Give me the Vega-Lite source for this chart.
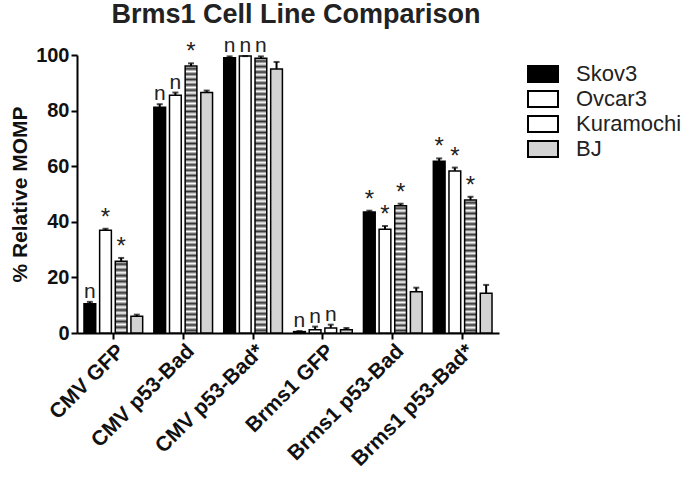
{
  "$schema": "https://vega.github.io/schema/vega-lite/v6.json",
  "width": 422,
  "height": 278,
  "padding": {"left": 9, "top": 1, "right": 0, "bottom": 0},
  "title": {"text": "Brms1 Cell Line Comparison", "fontSize": 27, "font": "Liberation Sans", "fontWeight": "bold", "color": "#222", "anchor": "middle", "offset": 6, "dx": 8},
  "data": {"values": [
    {"cond":"CMV GFP","line":"Skov3","v":10.5,"hi":11.2,"note":"n"},
    {"cond":"CMV GFP","line":"Ovcar3","v":37,"hi":37.5,"note":"*"},
    {"cond":"CMV GFP","line":"Kuramochi","v":25.8,"hi":27,"note":"*"},
    {"cond":"CMV GFP","line":"BJ","v":6,"hi":6.6,"note":""},
    {"cond":"CMV p53-Bad","line":"Skov3","v":81.2,"hi":82.3,"note":"n"},
    {"cond":"CMV p53-Bad","line":"Ovcar3","v":85.5,"hi":86.5,"note":"n"},
    {"cond":"CMV p53-Bad","line":"Kuramochi","v":96,"hi":97,"note":"*"},
    {"cond":"CMV p53-Bad","line":"BJ","v":86.5,"hi":87.2,"note":""},
    {"cond":"CMV p53-Bad*","line":"Skov3","v":99,"hi":99.5,"note":"n"},
    {"cond":"CMV p53-Bad*","line":"Ovcar3","v":99.6,"hi":99.6,"note":"n"},
    {"cond":"CMV p53-Bad*","line":"Kuramochi","v":98.8,"hi":99.5,"note":"n"},
    {"cond":"CMV p53-Bad*","line":"BJ","v":95,"hi":97.5,"note":""},
    {"cond":"Brms1 GFP","line":"Skov3","v":0.5,"hi":0.7,"note":"n"},
    {"cond":"Brms1 GFP","line":"Ovcar3","v":1.2,"hi":2.3,"note":"n"},
    {"cond":"Brms1 GFP","line":"Kuramochi","v":1.8,"hi":3,"note":"n"},
    {"cond":"Brms1 GFP","line":"BJ","v":1.2,"hi":1.8,"note":""},
    {"cond":"Brms1 p53-Bad","line":"Skov3","v":43.5,"hi":44,"note":"*"},
    {"cond":"Brms1 p53-Bad","line":"Ovcar3","v":37.3,"hi":38.5,"note":"*"},
    {"cond":"Brms1 p53-Bad","line":"Kuramochi","v":45.8,"hi":46.5,"note":"*"},
    {"cond":"Brms1 p53-Bad","line":"BJ","v":14.8,"hi":16.3,"note":""},
    {"cond":"Brms1 p53-Bad*","line":"Skov3","v":61.8,"hi":62.8,"note":"*"},
    {"cond":"Brms1 p53-Bad*","line":"Ovcar3","v":58.3,"hi":59.5,"note":"*"},
    {"cond":"Brms1 p53-Bad*","line":"Kuramochi","v":47.8,"hi":49,"note":"*"},
    {"cond":"Brms1 p53-Bad*","line":"BJ","v":14.3,"hi":17.3,"note":""}
  ]},
  "encoding": {
    "x": {"field": "cond", "type": "nominal", "sort": null,
      "scale": {"paddingInner": 0.16, "paddingOuter": 0.1},
      "axis": {"title": null, "labelAngle": -45, "labelFontSize": 21, "labelPadding": 1}},
    "xOffset": {"field": "line", "type": "nominal", "sort": null,
      "scale": {"domain": ["Skov3","Ovcar3","Kuramochi","BJ"], "paddingInner": 0.25}}
  },
  "layer": [
    {
      "mark": {"type": "bar", "stroke": "black", "strokeWidth": 1.5},
      "encoding": {
        "y": {"field": "v", "type": "quantitative", "scale": {"domain": [0, 100]},
          "axis": {"title": "% Relative MOMP", "titleFontSize": 21, "labelFontSize": 20, "labelPadding": 2, "values": [0,20,40,60,80,100], "titlePadding": 5}},
        "fill": {
          "field": "line", "type": "nominal",
          "scale": {"domain": ["Skov3","Ovcar3","Kuramochi","BJ"], "range": ["#000000","#ffffff","#ffffff","#d3d3d3"]},
          "condition": [
            {"test": "datum.line === 'Kuramochi' && datum.v > 90", "value": {"gradient": "linear", "x1": 0, "y1": 0, "x2": 0, "y2": 1, "stops": [
              {"offset":0,"color":"#fff"},{"offset":0.01,"color":"#333"},{"offset":0.02,"color":"#fff"},{"offset":0.03,"color":"#333"},{"offset":0.04,"color":"#fff"},{"offset":0.05,"color":"#333"},{"offset":0.06,"color":"#fff"},{"offset":0.07,"color":"#333"},{"offset":0.08,"color":"#fff"},{"offset":0.09,"color":"#333"},
              {"offset":0.10,"color":"#fff"},{"offset":0.11,"color":"#333"},{"offset":0.12,"color":"#fff"},{"offset":0.13,"color":"#333"},{"offset":0.14,"color":"#fff"},{"offset":0.15,"color":"#333"},{"offset":0.16,"color":"#fff"},{"offset":0.17,"color":"#333"},{"offset":0.18,"color":"#fff"},{"offset":0.19,"color":"#333"},
              {"offset":0.20,"color":"#fff"},{"offset":0.21,"color":"#333"},{"offset":0.22,"color":"#fff"},{"offset":0.23,"color":"#333"},{"offset":0.24,"color":"#fff"},{"offset":0.25,"color":"#333"},{"offset":0.26,"color":"#fff"},{"offset":0.27,"color":"#333"},{"offset":0.28,"color":"#fff"},{"offset":0.29,"color":"#333"},
              {"offset":0.30,"color":"#fff"},{"offset":0.31,"color":"#333"},{"offset":0.32,"color":"#fff"},{"offset":0.33,"color":"#333"},{"offset":0.34,"color":"#fff"},{"offset":0.35,"color":"#333"},{"offset":0.36,"color":"#fff"},{"offset":0.37,"color":"#333"},{"offset":0.38,"color":"#fff"},{"offset":0.39,"color":"#333"},
              {"offset":0.40,"color":"#fff"},{"offset":0.41,"color":"#333"},{"offset":0.42,"color":"#fff"},{"offset":0.43,"color":"#333"},{"offset":0.44,"color":"#fff"},{"offset":0.45,"color":"#333"},{"offset":0.46,"color":"#fff"},{"offset":0.47,"color":"#333"},{"offset":0.48,"color":"#fff"},{"offset":0.49,"color":"#333"},
              {"offset":0.50,"color":"#fff"},{"offset":0.51,"color":"#333"},{"offset":0.52,"color":"#fff"},{"offset":0.53,"color":"#333"},{"offset":0.54,"color":"#fff"},{"offset":0.55,"color":"#333"},{"offset":0.56,"color":"#fff"},{"offset":0.57,"color":"#333"},{"offset":0.58,"color":"#fff"},{"offset":0.59,"color":"#333"},
              {"offset":0.60,"color":"#fff"},{"offset":0.61,"color":"#333"},{"offset":0.62,"color":"#fff"},{"offset":0.63,"color":"#333"},{"offset":0.64,"color":"#fff"},{"offset":0.65,"color":"#333"},{"offset":0.66,"color":"#fff"},{"offset":0.67,"color":"#333"},{"offset":0.68,"color":"#fff"},{"offset":0.69,"color":"#333"},
              {"offset":0.70,"color":"#fff"},{"offset":0.71,"color":"#333"},{"offset":0.72,"color":"#fff"},{"offset":0.73,"color":"#333"},{"offset":0.74,"color":"#fff"},{"offset":0.75,"color":"#333"},{"offset":0.76,"color":"#fff"},{"offset":0.77,"color":"#333"},{"offset":0.78,"color":"#fff"},{"offset":0.79,"color":"#333"},
              {"offset":0.80,"color":"#fff"},{"offset":0.81,"color":"#333"},{"offset":0.82,"color":"#fff"},{"offset":0.83,"color":"#333"},{"offset":0.84,"color":"#fff"},{"offset":0.85,"color":"#333"},{"offset":0.86,"color":"#fff"},{"offset":0.87,"color":"#333"},{"offset":0.88,"color":"#fff"},{"offset":0.89,"color":"#333"},
              {"offset":0.90,"color":"#fff"},{"offset":0.91,"color":"#333"},{"offset":0.92,"color":"#fff"},{"offset":0.93,"color":"#333"},{"offset":0.94,"color":"#fff"},{"offset":0.95,"color":"#333"},{"offset":0.96,"color":"#fff"},{"offset":0.97,"color":"#333"},{"offset":0.98,"color":"#fff"},{"offset":0.99,"color":"#333"},
              {"offset":1,"color":"#fff"}]}},
            {"test": "datum.line === 'Kuramochi' && datum.v > 40", "value": {"gradient": "linear", "x1": 0, "y1": 0, "x2": 0, "y2": 1, "stops": [
              {"offset":0,"color":"#fff"},{"offset":0.02,"color":"#333"},{"offset":0.04,"color":"#fff"},{"offset":0.06,"color":"#333"},{"offset":0.08,"color":"#fff"},
              {"offset":0.10,"color":"#333"},{"offset":0.12,"color":"#fff"},{"offset":0.14,"color":"#333"},{"offset":0.16,"color":"#fff"},{"offset":0.18,"color":"#333"},
              {"offset":0.20,"color":"#fff"},{"offset":0.22,"color":"#333"},{"offset":0.24,"color":"#fff"},{"offset":0.26,"color":"#333"},{"offset":0.28,"color":"#fff"},
              {"offset":0.30,"color":"#333"},{"offset":0.32,"color":"#fff"},{"offset":0.34,"color":"#333"},{"offset":0.36,"color":"#fff"},{"offset":0.38,"color":"#333"},
              {"offset":0.40,"color":"#fff"},{"offset":0.42,"color":"#333"},{"offset":0.44,"color":"#fff"},{"offset":0.46,"color":"#333"},{"offset":0.48,"color":"#fff"},
              {"offset":0.50,"color":"#333"},{"offset":0.52,"color":"#fff"},{"offset":0.54,"color":"#333"},{"offset":0.56,"color":"#fff"},{"offset":0.58,"color":"#333"},
              {"offset":0.60,"color":"#fff"},{"offset":0.62,"color":"#333"},{"offset":0.64,"color":"#fff"},{"offset":0.66,"color":"#333"},{"offset":0.68,"color":"#fff"},
              {"offset":0.70,"color":"#333"},{"offset":0.72,"color":"#fff"},{"offset":0.74,"color":"#333"},{"offset":0.76,"color":"#fff"},{"offset":0.78,"color":"#333"},
              {"offset":0.80,"color":"#fff"},{"offset":0.82,"color":"#333"},{"offset":0.84,"color":"#fff"},{"offset":0.86,"color":"#333"},{"offset":0.88,"color":"#fff"},
              {"offset":0.90,"color":"#333"},{"offset":0.92,"color":"#fff"},{"offset":0.94,"color":"#333"},{"offset":0.96,"color":"#fff"},{"offset":0.98,"color":"#333"},
              {"offset":1,"color":"#fff"}]}},
            {"test": "datum.line === 'Kuramochi' && datum.v > 10", "value": {"gradient": "linear", "x1": 0, "y1": 0, "x2": 0, "y2": 1, "stops": [
              {"offset":0,"color":"#fff"},{"offset":0.04,"color":"#333"},{"offset":0.08,"color":"#fff"},{"offset":0.12,"color":"#333"},{"offset":0.16,"color":"#fff"},
              {"offset":0.20,"color":"#333"},{"offset":0.24,"color":"#fff"},{"offset":0.28,"color":"#333"},{"offset":0.32,"color":"#fff"},{"offset":0.36,"color":"#333"},
              {"offset":0.40,"color":"#fff"},{"offset":0.44,"color":"#333"},{"offset":0.48,"color":"#fff"},{"offset":0.52,"color":"#333"},{"offset":0.56,"color":"#fff"},
              {"offset":0.60,"color":"#333"},{"offset":0.64,"color":"#fff"},{"offset":0.68,"color":"#333"},{"offset":0.72,"color":"#fff"},{"offset":0.76,"color":"#333"},
              {"offset":0.80,"color":"#fff"},{"offset":0.84,"color":"#333"},{"offset":0.88,"color":"#fff"},{"offset":0.92,"color":"#333"},{"offset":0.96,"color":"#fff"},
              {"offset":1,"color":"#333"}]}}
          ],
          "legend": {
            "title": null, "orient": "right", "offset": 25, "padding": 8,
            "labelFontSize": 22, "labelFont": "Liberation Sans", "labelColor": "#222", "labelOffset": 22,
            "symbolType": "M-1.5,-0.8H1.5V0.8H-1.5Z", "symbolSize": 400, "symbolStrokeWidth": 2, "symbolStrokeColor": "black",
            "rowPadding": 1
          }
        }
      }
    },
    {
      "mark": {"type": "rule", "color": "black", "strokeWidth": 2},
      "encoding": {
        "y": {"field": "v", "type": "quantitative"},
        "y2": {"field": "hi"}
      }
    },
    {
      "mark": {"type": "tick", "color": "black", "thickness": 2, "size": 6},
      "encoding": {
        "y": {"field": "hi", "type": "quantitative"}
      }
    },
    {
      "mark": {"type": "text", "baseline": "alphabetic", "dy": -4, "font": "Liberation Sans", "color": "#222"},
      "encoding": {
        "y": {"field": "hi", "type": "quantitative"},
        "text": {"field": "note"},
        "size": {"condition": {"test": "datum.note === '*'", "value": 24}, "value": 21}
      }
    }
  ],
  "config": {
    "view": {"stroke": null},
    "axis": {"domainColor": "black", "domainWidth": 2, "tickColor": "black", "tickWidth": 2, "tickSize": 6, "labelColor": "#111", "labelFont": "Liberation Sans", "labelFontWeight": "bold", "titleFont": "Liberation Sans", "titleFontWeight": "bold", "titleColor": "#111", "grid": false}
  }
}
